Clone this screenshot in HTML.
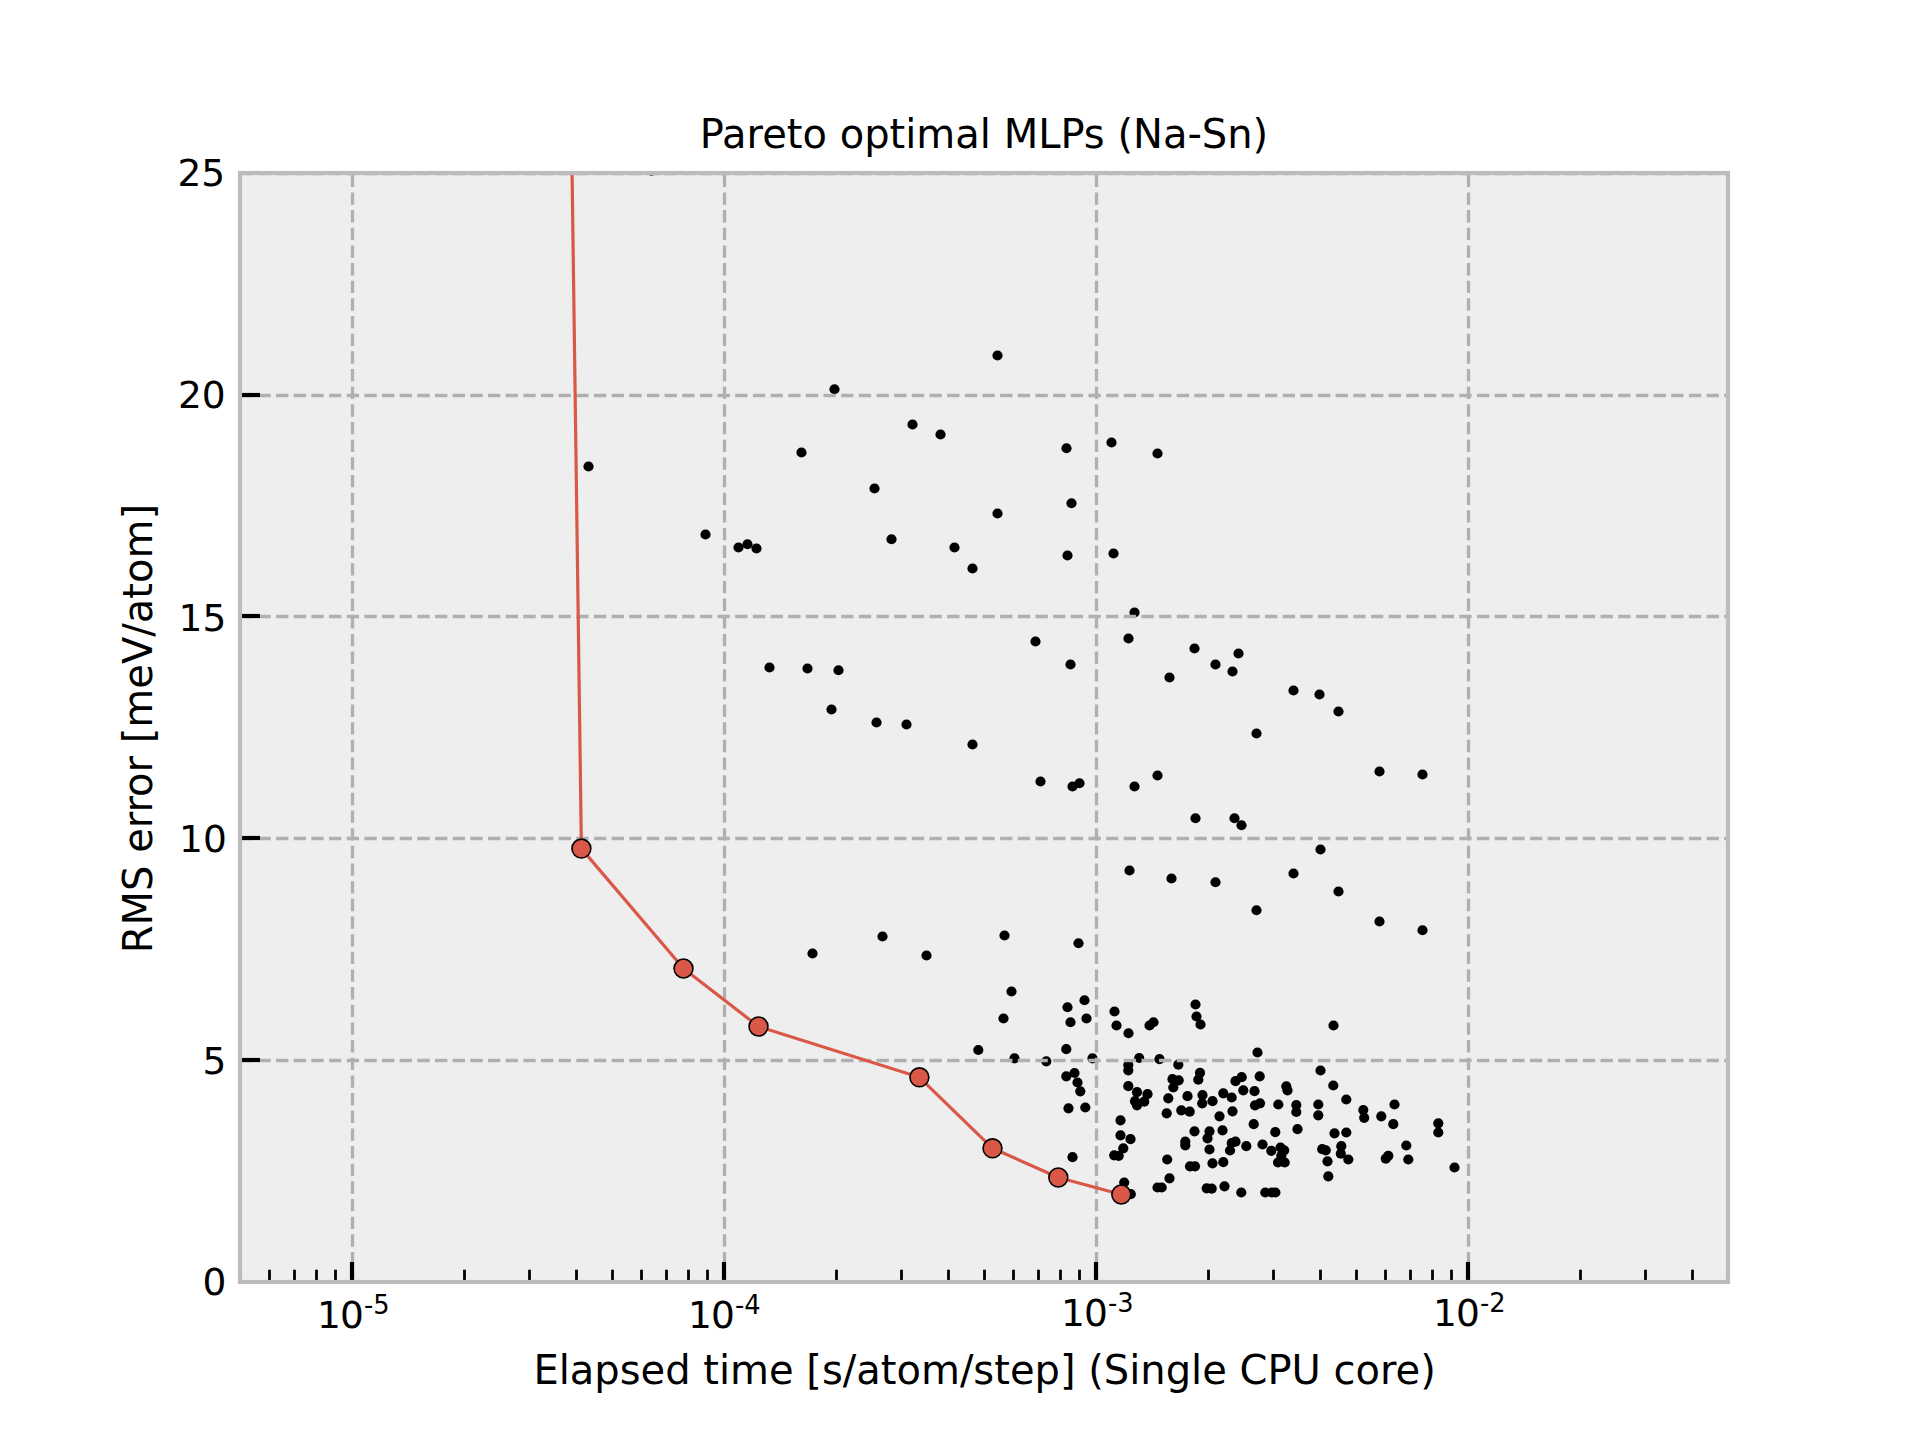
<!DOCTYPE html>
<html lang="en"><head><meta charset="utf-8"><title>Pareto optimal MLPs (Na-Sn)</title>
<style>html,body{margin:0;padding:0;background:#fff;}svg{display:block;}text{font-family:"DejaVu Sans", "Liberation Sans", sans-serif;fill:#000;}</style></head><body>
<svg width="1920" height="1440" viewBox="0 0 1920 1440">
<defs><clipPath id="ax"><rect x="240" y="173" width="1488" height="1109"/></clipPath></defs>
<rect x="0" y="0" width="1920" height="1440" fill="#ffffff"/>
<rect x="240" y="173" width="1488" height="1109" fill="#eeeeee"/>
<g clip-path="url(#ax)" fill="#000">
<circle cx="588.50" cy="466.50" r="5.1"/>
<circle cx="705.50" cy="534.50" r="5.1"/>
<circle cx="738.50" cy="547.50" r="5.1"/>
<circle cx="747.50" cy="544.25" r="5.1"/>
<circle cx="756.50" cy="548.50" r="5.1"/>
<circle cx="801.50" cy="452.50" r="5.1"/>
<circle cx="834.50" cy="389.25" r="5.1"/>
<circle cx="874.50" cy="488.50" r="5.1"/>
<circle cx="891.50" cy="539.25" r="5.1"/>
<circle cx="912.50" cy="424.50" r="5.1"/>
<circle cx="940.50" cy="434.50" r="5.1"/>
<circle cx="954.50" cy="547.50" r="5.1"/>
<circle cx="972.50" cy="568.50" r="5.1"/>
<circle cx="997.50" cy="355.50" r="5.1"/>
<circle cx="997.50" cy="513.50" r="5.1"/>
<circle cx="1035.50" cy="641.50" r="5.1"/>
<circle cx="769.50" cy="667.50" r="5.1"/>
<circle cx="807.50" cy="668.50" r="5.1"/>
<circle cx="838.50" cy="670.25" r="5.1"/>
<circle cx="1066.50" cy="448.25" r="5.1"/>
<circle cx="1111.50" cy="442.50" r="5.1"/>
<circle cx="1157.50" cy="453.50" r="5.1"/>
<circle cx="1071.50" cy="503.25" r="5.1"/>
<circle cx="1067.50" cy="555.50" r="5.1"/>
<circle cx="1113.50" cy="553.50" r="5.1"/>
<circle cx="1134.50" cy="612.50" r="5.1"/>
<circle cx="1128.50" cy="638.50" r="5.1"/>
<circle cx="1070.50" cy="664.50" r="5.1"/>
<circle cx="1194.50" cy="648.50" r="5.1"/>
<circle cx="1238.50" cy="653.50" r="5.1"/>
<circle cx="1215.50" cy="664.50" r="5.1"/>
<circle cx="1232.50" cy="671.50" r="5.1"/>
<circle cx="1169.50" cy="677.50" r="5.1"/>
<circle cx="1293.50" cy="690.50" r="5.1"/>
<circle cx="1319.50" cy="694.50" r="5.1"/>
<circle cx="831.50" cy="709.50" r="5.1"/>
<circle cx="876.50" cy="722.50" r="5.1"/>
<circle cx="906.50" cy="724.50" r="5.1"/>
<circle cx="972.50" cy="744.50" r="5.1"/>
<circle cx="1040.50" cy="781.50" r="5.1"/>
<circle cx="812.50" cy="953.50" r="5.1"/>
<circle cx="882.50" cy="936.50" r="5.1"/>
<circle cx="926.50" cy="955.50" r="5.1"/>
<circle cx="1004.50" cy="935.50" r="5.1"/>
<circle cx="1011.50" cy="991.50" r="5.1"/>
<circle cx="1003.50" cy="1018.50" r="5.1"/>
<circle cx="1338.50" cy="711.50" r="5.1"/>
<circle cx="1256.50" cy="733.50" r="5.1"/>
<circle cx="1379.50" cy="771.50" r="5.1"/>
<circle cx="1422.50" cy="774.50" r="5.1"/>
<circle cx="1072.50" cy="786.50" r="5.1"/>
<circle cx="1079.50" cy="783.25" r="5.1"/>
<circle cx="1134.50" cy="786.50" r="5.1"/>
<circle cx="1157.50" cy="775.50" r="5.1"/>
<circle cx="1195.50" cy="818.25" r="5.1"/>
<circle cx="1234.50" cy="818.25" r="5.1"/>
<circle cx="1241.50" cy="825.25" r="5.1"/>
<circle cx="1320.50" cy="849.50" r="5.1"/>
<circle cx="1129.50" cy="870.50" r="5.1"/>
<circle cx="1171.50" cy="878.50" r="5.1"/>
<circle cx="1215.50" cy="882.25" r="5.1"/>
<circle cx="1293.50" cy="873.50" r="5.1"/>
<circle cx="1338.50" cy="891.50" r="5.1"/>
<circle cx="1256.50" cy="910.25" r="5.1"/>
<circle cx="1379.50" cy="921.50" r="5.1"/>
<circle cx="1422.50" cy="930.25" r="5.1"/>
<circle cx="1078.50" cy="943.25" r="5.1"/>
<circle cx="1084.50" cy="1000.25" r="5.1"/>
<circle cx="1067.50" cy="1007.25" r="5.1"/>
<circle cx="1086.50" cy="1018.50" r="5.1"/>
<circle cx="1070.50" cy="1022.25" r="5.1"/>
<circle cx="1114.50" cy="1011.50" r="5.1"/>
<circle cx="1116.50" cy="1025.50" r="5.1"/>
<circle cx="1128.50" cy="1033.25" r="5.1"/>
<circle cx="1149.50" cy="1025.50" r="5.1"/>
<circle cx="1153.50" cy="1022.25" r="5.1"/>
<circle cx="1195.50" cy="1004.50" r="5.1"/>
<circle cx="1196.50" cy="1016.50" r="5.1"/>
<circle cx="1200.50" cy="1024.50" r="5.1"/>
<circle cx="1333.50" cy="1025.50" r="5.1"/>
<circle cx="978.30" cy="1050.00" r="5.1"/>
<circle cx="1014.50" cy="1058.30" r="5.1"/>
<circle cx="1046.30" cy="1061.30" r="5.1"/>
<circle cx="1066.30" cy="1049.20" r="5.1"/>
<circle cx="1092.50" cy="1058.30" r="5.1"/>
<circle cx="1066.30" cy="1076.30" r="5.1"/>
<circle cx="1074.50" cy="1073.00" r="5.1"/>
<circle cx="1077.50" cy="1082.50" r="5.1"/>
<circle cx="1080.30" cy="1091.30" r="5.1"/>
<circle cx="1068.50" cy="1108.30" r="5.1"/>
<circle cx="1085.30" cy="1107.50" r="5.1"/>
<circle cx="1072.50" cy="1157.20" r="5.1"/>
<circle cx="1139.20" cy="1058.00" r="5.1"/>
<circle cx="1159.50" cy="1059.20" r="5.1"/>
<circle cx="1257.50" cy="1052.50" r="5.1"/>
<circle cx="1178.30" cy="1064.70" r="5.1"/>
<circle cx="1128.30" cy="1065.00" r="5.1"/>
<circle cx="1128.30" cy="1070.30" r="5.1"/>
<circle cx="1200.00" cy="1072.80" r="5.1"/>
<circle cx="1198.30" cy="1079.70" r="5.1"/>
<circle cx="1172.50" cy="1079.20" r="5.1"/>
<circle cx="1178.70" cy="1080.30" r="5.1"/>
<circle cx="1173.30" cy="1087.50" r="5.1"/>
<circle cx="1128.30" cy="1086.20" r="5.1"/>
<circle cx="1137.00" cy="1092.20" r="5.1"/>
<circle cx="1147.50" cy="1094.20" r="5.1"/>
<circle cx="1135.00" cy="1101.20" r="5.1"/>
<circle cx="1144.20" cy="1101.70" r="5.1"/>
<circle cx="1137.00" cy="1105.30" r="5.1"/>
<circle cx="1168.30" cy="1098.30" r="5.1"/>
<circle cx="1187.50" cy="1096.20" r="5.1"/>
<circle cx="1202.50" cy="1095.00" r="5.1"/>
<circle cx="1202.20" cy="1103.30" r="5.1"/>
<circle cx="1212.50" cy="1101.20" r="5.1"/>
<circle cx="1223.30" cy="1093.30" r="5.1"/>
<circle cx="1231.70" cy="1097.50" r="5.1"/>
<circle cx="1235.50" cy="1081.20" r="5.1"/>
<circle cx="1241.70" cy="1077.20" r="5.1"/>
<circle cx="1259.70" cy="1076.30" r="5.1"/>
<circle cx="1243.30" cy="1090.30" r="5.1"/>
<circle cx="1254.50" cy="1091.20" r="5.1"/>
<circle cx="1255.00" cy="1105.30" r="5.1"/>
<circle cx="1260.00" cy="1103.30" r="5.1"/>
<circle cx="1278.30" cy="1104.50" r="5.1"/>
<circle cx="1166.70" cy="1113.30" r="5.1"/>
<circle cx="1181.30" cy="1110.30" r="5.1"/>
<circle cx="1189.70" cy="1111.70" r="5.1"/>
<circle cx="1219.50" cy="1116.30" r="5.1"/>
<circle cx="1232.50" cy="1111.30" r="5.1"/>
<circle cx="1253.70" cy="1124.20" r="5.1"/>
<circle cx="1120.50" cy="1120.30" r="5.1"/>
<circle cx="1120.50" cy="1135.30" r="5.1"/>
<circle cx="1130.50" cy="1139.20" r="5.1"/>
<circle cx="1123.30" cy="1148.30" r="5.1"/>
<circle cx="1114.20" cy="1155.30" r="5.1"/>
<circle cx="1118.70" cy="1155.80" r="5.1"/>
<circle cx="1194.50" cy="1131.30" r="5.1"/>
<circle cx="1209.50" cy="1131.30" r="5.1"/>
<circle cx="1207.50" cy="1138.30" r="5.1"/>
<circle cx="1222.50" cy="1130.30" r="5.1"/>
<circle cx="1275.30" cy="1132.20" r="5.1"/>
<circle cx="1185.30" cy="1141.70" r="5.1"/>
<circle cx="1185.30" cy="1145.30" r="5.1"/>
<circle cx="1209.50" cy="1149.50" r="5.1"/>
<circle cx="1231.70" cy="1143.00" r="5.1"/>
<circle cx="1235.50" cy="1141.70" r="5.1"/>
<circle cx="1230.00" cy="1150.50" r="5.1"/>
<circle cx="1246.30" cy="1146.20" r="5.1"/>
<circle cx="1262.50" cy="1144.50" r="5.1"/>
<circle cx="1271.30" cy="1150.80" r="5.1"/>
<circle cx="1280.50" cy="1147.50" r="5.1"/>
<circle cx="1167.20" cy="1159.50" r="5.1"/>
<circle cx="1190.00" cy="1166.30" r="5.1"/>
<circle cx="1195.00" cy="1166.30" r="5.1"/>
<circle cx="1212.50" cy="1163.30" r="5.1"/>
<circle cx="1223.30" cy="1162.20" r="5.1"/>
<circle cx="1169.50" cy="1178.30" r="5.1"/>
<circle cx="1124.20" cy="1182.50" r="5.1"/>
<circle cx="1130.80" cy="1194.20" r="5.1"/>
<circle cx="1157.50" cy="1187.50" r="5.1"/>
<circle cx="1161.70" cy="1187.50" r="5.1"/>
<circle cx="1206.70" cy="1188.30" r="5.1"/>
<circle cx="1211.70" cy="1188.70" r="5.1"/>
<circle cx="1224.50" cy="1186.30" r="5.1"/>
<circle cx="1241.30" cy="1192.50" r="5.1"/>
<circle cx="1265.30" cy="1192.50" r="5.1"/>
<circle cx="1271.80" cy="1192.50" r="5.1"/>
<circle cx="1275.40" cy="1192.50" r="5.1"/>
<circle cx="1284.20" cy="1150.30" r="5.1"/>
<circle cx="1281.30" cy="1155.80" r="5.1"/>
<circle cx="1278.00" cy="1162.50" r="5.1"/>
<circle cx="1284.70" cy="1162.50" r="5.1"/>
<circle cx="1286.30" cy="1086.30" r="5.1"/>
<circle cx="1287.50" cy="1090.30" r="5.1"/>
<circle cx="1296.30" cy="1105.00" r="5.1"/>
<circle cx="1296.30" cy="1112.00" r="5.1"/>
<circle cx="1297.50" cy="1129.20" r="5.1"/>
<circle cx="1320.50" cy="1070.50" r="5.1"/>
<circle cx="1333.30" cy="1085.50" r="5.1"/>
<circle cx="1346.30" cy="1099.50" r="5.1"/>
<circle cx="1318.30" cy="1104.50" r="5.1"/>
<circle cx="1318.30" cy="1115.30" r="5.1"/>
<circle cx="1363.30" cy="1110.00" r="5.1"/>
<circle cx="1364.20" cy="1117.80" r="5.1"/>
<circle cx="1381.30" cy="1116.30" r="5.1"/>
<circle cx="1394.50" cy="1104.50" r="5.1"/>
<circle cx="1393.30" cy="1124.20" r="5.1"/>
<circle cx="1334.50" cy="1133.30" r="5.1"/>
<circle cx="1346.30" cy="1132.50" r="5.1"/>
<circle cx="1438.30" cy="1123.30" r="5.1"/>
<circle cx="1438.30" cy="1132.50" r="5.1"/>
<circle cx="1406.30" cy="1145.50" r="5.1"/>
<circle cx="1408.30" cy="1159.50" r="5.1"/>
<circle cx="1388.30" cy="1155.80" r="5.1"/>
<circle cx="1385.80" cy="1158.70" r="5.1"/>
<circle cx="1322.20" cy="1149.20" r="5.1"/>
<circle cx="1325.80" cy="1150.30" r="5.1"/>
<circle cx="1341.30" cy="1146.20" r="5.1"/>
<circle cx="1340.80" cy="1153.70" r="5.1"/>
<circle cx="1348.30" cy="1159.50" r="5.1"/>
<circle cx="1327.50" cy="1161.30" r="5.1"/>
<circle cx="1328.30" cy="1176.30" r="5.1"/>
<circle cx="1454.50" cy="1167.50" r="5.1"/>
<circle cx="651.50" cy="170.60" r="5.1"/>
</g>
<g clip-path="url(#ax)" stroke="#b0b0b0" stroke-width="3.33" stroke-dasharray="12.33 5.33" fill="none">
<line x1="352.50" y1="1282.00" x2="352.50" y2="173.00"/>
<line x1="724.50" y1="1282.00" x2="724.50" y2="173.00"/>
<line x1="1096.50" y1="1282.00" x2="1096.50" y2="173.00"/>
<line x1="1468.50" y1="1282.00" x2="1468.50" y2="173.00"/>
<line x1="240.75" y1="1282.50" x2="1728.00" y2="1282.50"/>
<line x1="240.75" y1="1060.50" x2="1728.00" y2="1060.50"/>
<line x1="240.75" y1="838.50" x2="1728.00" y2="838.50"/>
<line x1="240.75" y1="616.50" x2="1728.00" y2="616.50"/>
<line x1="240.75" y1="395.50" x2="1728.00" y2="395.50"/>
<line x1="240.75" y1="173.50" x2="1728.00" y2="173.50"/>
</g>
<g stroke="#000" fill="none">
<line x1="352.00" y1="1282.00" x2="352.00" y2="1262.00" stroke-width="4.17"/>
<line x1="724.00" y1="1282.00" x2="724.00" y2="1262.00" stroke-width="4.17"/>
<line x1="1096.00" y1="1282.00" x2="1096.00" y2="1262.00" stroke-width="4.17"/>
<line x1="1468.00" y1="1282.00" x2="1468.00" y2="1262.00" stroke-width="4.17"/>
<line x1="269.50" y1="1282.00" x2="269.50" y2="1269.70" stroke-width="2.8"/>
<line x1="294.50" y1="1282.00" x2="294.50" y2="1269.70" stroke-width="2.8"/>
<line x1="316.50" y1="1282.00" x2="316.50" y2="1269.70" stroke-width="2.8"/>
<line x1="335.50" y1="1282.00" x2="335.50" y2="1269.70" stroke-width="2.8"/>
<line x1="464.50" y1="1282.00" x2="464.50" y2="1269.70" stroke-width="2.8"/>
<line x1="529.50" y1="1282.00" x2="529.50" y2="1269.70" stroke-width="2.8"/>
<line x1="576.50" y1="1282.00" x2="576.50" y2="1269.70" stroke-width="2.8"/>
<line x1="612.50" y1="1282.00" x2="612.50" y2="1269.70" stroke-width="2.8"/>
<line x1="641.50" y1="1282.00" x2="641.50" y2="1269.70" stroke-width="2.8"/>
<line x1="666.50" y1="1282.00" x2="666.50" y2="1269.70" stroke-width="2.8"/>
<line x1="688.50" y1="1282.00" x2="688.50" y2="1269.70" stroke-width="2.8"/>
<line x1="707.50" y1="1282.00" x2="707.50" y2="1269.70" stroke-width="2.8"/>
<line x1="836.50" y1="1282.00" x2="836.50" y2="1269.70" stroke-width="2.8"/>
<line x1="901.50" y1="1282.00" x2="901.50" y2="1269.70" stroke-width="2.8"/>
<line x1="948.50" y1="1282.00" x2="948.50" y2="1269.70" stroke-width="2.8"/>
<line x1="984.50" y1="1282.00" x2="984.50" y2="1269.70" stroke-width="2.8"/>
<line x1="1013.50" y1="1282.00" x2="1013.50" y2="1269.70" stroke-width="2.8"/>
<line x1="1038.50" y1="1282.00" x2="1038.50" y2="1269.70" stroke-width="2.8"/>
<line x1="1060.50" y1="1282.00" x2="1060.50" y2="1269.70" stroke-width="2.8"/>
<line x1="1079.50" y1="1282.00" x2="1079.50" y2="1269.70" stroke-width="2.8"/>
<line x1="1208.50" y1="1282.00" x2="1208.50" y2="1269.70" stroke-width="2.8"/>
<line x1="1273.50" y1="1282.00" x2="1273.50" y2="1269.70" stroke-width="2.8"/>
<line x1="1320.50" y1="1282.00" x2="1320.50" y2="1269.70" stroke-width="2.8"/>
<line x1="1356.50" y1="1282.00" x2="1356.50" y2="1269.70" stroke-width="2.8"/>
<line x1="1385.50" y1="1282.00" x2="1385.50" y2="1269.70" stroke-width="2.8"/>
<line x1="1410.50" y1="1282.00" x2="1410.50" y2="1269.70" stroke-width="2.8"/>
<line x1="1432.50" y1="1282.00" x2="1432.50" y2="1269.70" stroke-width="2.8"/>
<line x1="1451.50" y1="1282.00" x2="1451.50" y2="1269.70" stroke-width="2.8"/>
<line x1="1580.50" y1="1282.00" x2="1580.50" y2="1269.70" stroke-width="2.8"/>
<line x1="1645.50" y1="1282.00" x2="1645.50" y2="1269.70" stroke-width="2.8"/>
<line x1="1692.50" y1="1282.00" x2="1692.50" y2="1269.70" stroke-width="2.8"/>
<line x1="1728.50" y1="1282.00" x2="1728.50" y2="1269.70" stroke-width="2.8"/>
<line x1="240.00" y1="1060.00" x2="260.00" y2="1060.00" stroke-width="4.17"/>
<line x1="240.00" y1="838.00" x2="260.00" y2="838.00" stroke-width="4.17"/>
<line x1="240.00" y1="616.00" x2="260.00" y2="616.00" stroke-width="4.17"/>
<line x1="240.00" y1="395.00" x2="260.00" y2="395.00" stroke-width="4.17"/>
</g>
<g clip-path="url(#ax)">
<path d="M571.07 100.00 L581.40 848.60 L683.50 968.50 L758.50 1026.50 L919.40 1077.30 L992.50 1148.30 L1058.30 1177.50 L1121.30 1194.50" fill="none" stroke="#d95847" stroke-width="3.2" stroke-linejoin="round"/>
<circle cx="581.40" cy="848.60" r="9.45" fill="#d95847" stroke="#000" stroke-width="1.6"/>
<circle cx="683.50" cy="968.50" r="9.45" fill="#d95847" stroke="#000" stroke-width="1.6"/>
<circle cx="758.50" cy="1026.50" r="9.45" fill="#d95847" stroke="#000" stroke-width="1.6"/>
<circle cx="919.40" cy="1077.30" r="9.45" fill="#d95847" stroke="#000" stroke-width="1.6"/>
<circle cx="992.50" cy="1148.30" r="9.45" fill="#d95847" stroke="#000" stroke-width="1.6"/>
<circle cx="1058.30" cy="1177.50" r="9.45" fill="#d95847" stroke="#000" stroke-width="1.6"/>
<circle cx="1121.30" cy="1194.50" r="9.45" fill="#d95847" stroke="#000" stroke-width="1.6"/>
</g>
<rect x="240" y="173" width="1488" height="1109" fill="none" stroke="#bcbcbc" stroke-width="4.17"/>
<text x="317.00 339.96" y="1328.30" font-size="37.5">10</text>
<text x="363.95" y="1313.60" font-size="25.7">-5</text>
<text x="688.00 710.96" y="1328.30" font-size="37.5">10</text>
<text x="734.95" y="1313.60" font-size="25.7">-4</text>
<text x="1061.00 1083.96" y="1326.30" font-size="37.5">10</text>
<text x="1107.95" y="1311.60" font-size="25.7">-3</text>
<text x="1433.00 1455.96" y="1326.30" font-size="37.5">10</text>
<text x="1479.95" y="1311.60" font-size="25.7">-2</text>
<text x="226.40" y="1294.80" font-size="37.5" text-anchor="end">0</text>
<text x="226.40" y="1073.90" font-size="37.5" text-anchor="end">5</text>
<text x="226.80" y="851.55" font-size="37.5" text-anchor="end">10</text>
<text x="226.30" y="630.50" font-size="37.5" text-anchor="end">15</text>
<text x="225.60" y="407.65" font-size="37.5" text-anchor="end">20</text>
<text x="225.20" y="186.40" font-size="37.5" text-anchor="end">25</text>
<text x="984" y="148.3" font-size="40" text-anchor="middle">Pareto optimal MLPs (Na-Sn)</text>
<text x="984.6" y="1384" font-size="40" text-anchor="middle">Elapsed time [s/atom/step] (Single CPU core)</text>
<text transform="translate(151.8 728.6) rotate(-90)" font-size="40" text-anchor="middle">RMS error [meV/atom]</text>
</svg></body></html>
